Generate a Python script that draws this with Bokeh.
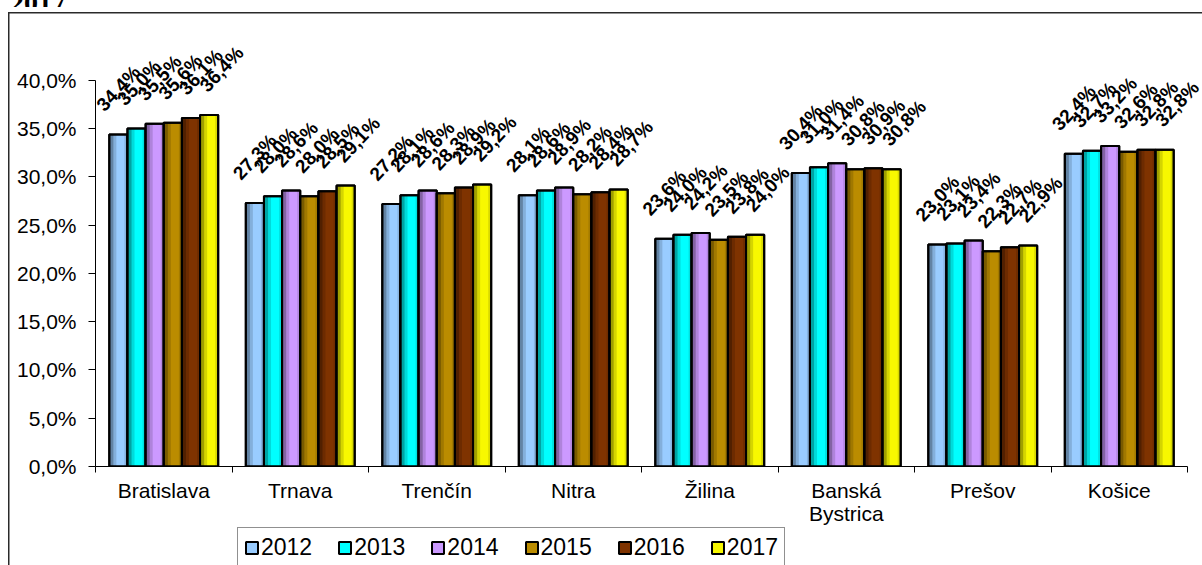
import math
from bokeh.plotting import figure
from bokeh.layouts import column
from bokeh.models import (ColumnDataSource, Range1d, FixedTicker, Legend, LegendItem, Div)
from bokeh.embed import file_html
from bokeh.resources import INLINE
from bokeh.core.properties import value

# ---------------- data ----------------
categories = ["Bratislava", "Trnava", "Trenčín", "Nitra", "Žilina",
              "Banská Bystrica", "Prešov", "Košice"]
category_labels = ["Bratislava", "Trnava", "Trenčín", "Nitra", "Žilina",
                   "Banská\nBystrica", "Prešov", "Košice"]
years = ["2012", "2013", "2014", "2015", "2016", "2017"]
v2012 = [34.4, 27.3, 27.2, 28.1, 23.6, 30.4, 23.0, 32.4]
v2013 = [35.0, 28.0, 28.1, 28.6, 24.0, 31.0, 23.1, 32.7]
v2014 = [35.5, 28.6, 28.6, 28.9, 24.2, 31.4, 23.4, 33.2]
v2015 = [35.6, 28.0, 28.3, 28.2, 23.5, 30.8, 22.3, 32.6]
v2016 = [36.1, 28.5, 28.9, 28.4, 23.8, 30.9, 22.7, 32.8]
v2017 = [36.4, 29.1, 29.2, 28.7, 24.0, 30.8, 22.9, 32.8]
series = [v2012, v2013, v2014, v2015, v2016, v2017]
y_ticks = [0, 5, 10, 15, 20, 25, 30, 35, 40]
y_tick_labels = ["0,0%", "5,0%", "10,0%", "15,0%", "20,0%", "25,0%", "30,0%", "35,0%", "40,0%"]
title_text = "2017"

colors = ["#99CCFF", "#00FFFF", "#CC99FF", "#BB8C00", "#7F3300", "#F8F800"]

# ---------------- layout constants ----------------
FONT = "Liberation Sans"
W = 1202
H_TITLE = 7
H_MAIN = 520
H_LEG = 38
LEFT = 95          # frame left (px)
PX_PER_CAT = 136.5 # px per category
n_cat = len(categories)
x_end = -0.5 + (W - LEFT) / PX_PER_CAT

LINE = "#2a2a2a"
border_css = (f"linear-gradient({LINE},{LINE}) 8px 5px / 1.5px calc(100% - 5px) no-repeat, "
              f"linear-gradient({LINE},{LINE}) 8px 5px / calc(100% - 8px) 1.5px no-repeat, #ffffff")

# ---------------- cut-off title strip (only the bottom of the text is visible) ----------------
title_div = Div(
    text=(f"<div style=\"font-family:'Liberation Serif';font-weight:bold;font-size:28px;"
          f"line-height:28px;margin:-18px 0 0 10px;color:#000;white-space:nowrap\">{title_text}</div>"),
    width=W, height=H_TITLE, margin=0,
    styles={"overflow": "hidden", "background": "#ffffff"})

# ---------------- main chart ----------------
p = figure(width=W, height=H_MAIN,
           x_range=Range1d(-0.5, x_end),
           y_range=Range1d(0, 46.2),
           output_backend="svg", toolbar_location=None,
           min_border_left=LEFT, min_border_right=0,
           min_border_top=13, min_border_bottom=60,
           styles={"background": border_css})
p.outline_line_color = None
p.xgrid.visible = False
p.ygrid.visible = False
p.background_fill_color = None
p.border_fill_color = None

bw = 0.133
n = len(years)
sources = []
for j, (yr, vals, col) in enumerate(zip(years, series, colors)):
    xs = [i + (j - (n - 1) / 2) * bw for i in range(n_cat)]
    labels = [f"{v:.1f}".replace(".", ",") + "%" for v in vals]
    src = ColumnDataSource(dict(x=xs, top=vals, label=labels,
                                xl1=[x - bw / 2 + 0.026 for x in xs],
                                xl2=[x - bw / 2 + 0.015 for x in xs],
                                xr=[x + bw / 2 - 0.011 for x in xs]))
    sources.append(src)
    p.vbar(x="x", top="top", width=bw, bottom=0, source=src,
           fill_color=col, line_color="black", line_width=2)
    # shading strips (approximate gradient)
    p.vbar(x="xl1", top="top", width=0.052, bottom=0, source=src,
           fill_color="black", fill_alpha=0.14, line_color=None)
    p.vbar(x="xl2", top="top", width=0.03, bottom=0, source=src,
           fill_color="black", fill_alpha=0.25, line_color=None)
    p.vbar(x="xr", top="top", width=0.022, bottom=0, source=src,
           fill_color="black", fill_alpha=0.12, line_color=None)
    p.vbar(x="x", top="top", width=bw, bottom=0, source=src,
           fill_color=None, line_color="black", line_width=2)
    p.text(x="x", y="top", text="label", source=src,
           angle=math.radians(47), text_align="center", text_baseline="middle",
           text_font=value(FONT), text_font_style="bold", text_font_size="19px",
           text_color="black", x_offset=2.5 * j, y_offset=-46)

# ---------------- axes ----------------
xa = p.xaxis[0]
xa.ticker = FixedTicker(ticks=list(range(n_cat)),
                        minor_ticks=[i - 0.5 for i in range(n_cat + 1)])
xa.bounds = (-0.5, n_cat - 0.5)
xa.major_label_overrides = {i: lab for i, lab in enumerate(category_labels)}
xa.major_tick_out = 0
xa.major_tick_in = 0
xa.minor_tick_out = 6
xa.minor_tick_in = 0
xa.minor_tick_line_color = "black"
xa.axis_line_color = "black"
xa.major_label_text_font = FONT
xa.major_label_text_font_size = "21px"
xa.major_label_text_color = "black"
xa.major_label_text_line_height = 1.0
xa.major_label_standoff = 6

ya = p.yaxis[0]
ya.ticker = FixedTicker(ticks=y_ticks, minor_ticks=[])
ya.bounds = (y_ticks[0], y_ticks[-1])
ya.major_label_overrides = {t: l for t, l in zip(y_ticks, y_tick_labels)}
ya.major_tick_out = 7
ya.major_tick_in = 0
ya.minor_tick_line_color = None
ya.axis_line_color = "black"
ya.major_tick_line_color = "black"
ya.major_label_text_font = FONT
ya.major_label_text_font_size = "21px"
ya.major_label_text_color = "black"
ya.major_label_standoff = 12

# ---------------- legend strip (second figure, directly below) ----------------
p2 = figure(width=W, height=H_LEG, x_range=Range1d(-0.5, x_end), y_range=Range1d(0, 46.2),
            output_backend="svg", toolbar_location=None,
            x_axis_type=None, y_axis_type=None,
            min_border_left=LEFT, min_border_right=0, min_border_top=0, min_border_bottom=0,
            styles={"background": f"linear-gradient({LINE},{LINE}) 8px 0px / 1.5px 100% no-repeat, #ffffff"})
p2.outline_line_color = None
p2.xgrid.visible = False
p2.ygrid.visible = False
p2.background_fill_color = None
p2.border_fill_color = None

leg_renderers = []
for src, col in zip(sources, colors):
    r = p2.vbar(x="x", top="top", width=bw, bottom=0, source=src,
                fill_color=col, line_color="black", line_width=2, visible=False)
    leg_renderers.append(r)

legend = Legend(items=[LegendItem(label=yr, renderers=[r]) for yr, r in zip(years, leg_renderers)],
                orientation="horizontal", location=(142, -3))
legend.border_line_color = "#222222"
legend.border_line_width = 1.5
legend.background_fill_color = "white"
legend.background_fill_alpha = 1
legend.inactive_fill_alpha = 0
legend.label_text_font = FONT
legend.label_text_font_size = "23px"
legend.label_text_color = "black"
legend.glyph_width = 15
legend.glyph_height = 15
legend.label_standoff = 2
legend.spacing = 25
legend.padding = 6
legend.margin = 0
p2.add_layout(legend, "center")

layout = column(title_div, p, p2, spacing=0)
open("out.html", "w").write(file_html(layout, INLINE))
